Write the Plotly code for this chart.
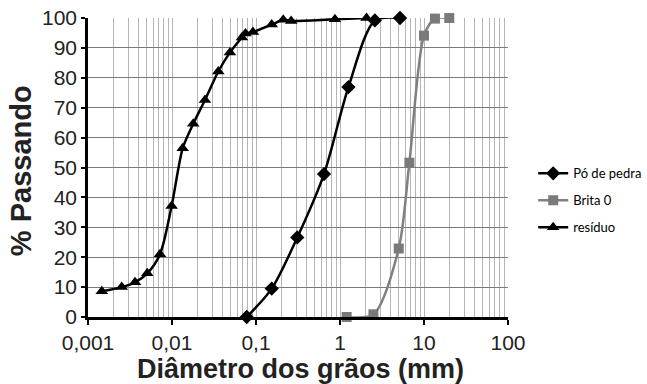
import plotly.graph_objects as go

# ---- data ----
po_x = [0.0775, 0.154, 0.31, 0.645, 1.26, 2.6, 5.18]
po_y = [0, 9.5, 26.6, 47.8, 76.9, 99.2, 100]

brita_x = [1.2, 2.5, 5.0, 6.7, 10.0, 13.5, 20.0]
brita_y = [0, 0.9, 22.9, 51.6, 94.1, 99.8, 100]

res_x = [0.00146, 0.00252, 0.00363, 0.00508, 0.0072, 0.0099, 0.0134, 0.0179,
         0.0247, 0.0356, 0.049, 0.068, 0.075, 0.092, 0.154, 0.211, 0.262, 0.87, 2.07]
res_y = [8.6, 10.0, 11.6, 14.6, 21.0, 37.1, 56.4, 64.6,
         72.6, 82.1, 88.5, 93.5, 94.8, 95.3, 97.8, 99.4, 99.0, 99.6, 100]

x_tickvals = [0.001, 0.01, 0.1, 1, 10, 100]
x_ticktext = ["0,001", "0,01", "0,1", "1", "10", "100"]
y_tickvals = list(range(0, 101, 10))

x_title = "Diâmetro dos grãos (mm)"
y_title = "% Passando"

minor_vals = [m * 10 ** e for e in range(-3, 2) for m in range(2, 10)]

FONT = "Liberation Sans, Arial, sans-serif"
LEGFONT = "Lato, Open Sans, sans-serif"

fig = go.Figure()
fig.add_trace(go.Scatter(
    x=po_x, y=po_y, name="Pó de pedra", mode="lines+markers",
    line=dict(color="black", width=2.5, shape="spline", smoothing=0.8),
    marker=dict(symbol="diamond", size=11, color="black"),
    cliponaxis=False, legendgroup="a"))
fig.add_trace(go.Scatter(
    x=brita_x, y=brita_y, name="Brita 0", mode="lines+markers",
    line=dict(color="#808080", width=2.5, shape="spline", smoothing=0.8),
    marker=dict(symbol="square", size=10, color="#7a7a7a"),
    cliponaxis=False, legendgroup="b"))
fig.add_trace(go.Scatter(
    x=res_x, y=res_y, name="resíduo", mode="lines+markers",
    line=dict(color="black", width=2.5, shape="spline", smoothing=0.8),
    marker=dict(symbol="triangle-up", size=11, color="black"),
    cliponaxis=False, legendgroup="c"))

fig.update_layout(
    width=647, height=384,
    margin=dict(l=88, r=139, t=18, b=67, autoexpand=False),
    paper_bgcolor="white", plot_bgcolor="white",
    font=dict(family=FONT, color="black"),
    legend=dict(x=1.06, xanchor="left", y=0.39, yanchor="middle",
                font=dict(family=LEGFONT, size=13, color="black"),
                tracegroupgap=7, itemwidth=30, bgcolor="rgba(0,0,0,0)"),
    showlegend=True,
    annotations=[
        dict(text="<b>%s</b>" % x_title, xref="paper", yref="paper",
             x=0.505, y=-0.175, xanchor="center", yanchor="middle",
             showarrow=False, font=dict(size=27, family=FONT, color="#222")),
        dict(text="<b>%s</b>" % y_title, xref="paper", yref="paper",
             x=-0.158, y=0.49, xanchor="center", yanchor="middle",
             textangle=-90, showarrow=False,
             font=dict(size=29, family=FONT, color="#222")),
    ],
)
fig.update_xaxes(
    type="log", range=[-3, 2], automargin=False,
    tickmode="array", tickvals=x_tickvals, ticktext=x_ticktext,
    tickfont=dict(size=21, family=FONT, color="#222"),
    ticks="outside", ticklen=5, tickcolor="black", tickwidth=1.5,
    showline=True, linecolor="black", linewidth=2.5,
    showgrid=True, gridcolor="#b5b5b5", gridwidth=1,
    minor=dict(tickmode="array", tickvals=minor_vals, showgrid=True,
               gridcolor="#b5b5b5", gridwidth=1, ticks=""),
    zeroline=False,
)
fig.update_yaxes(
    range=[0, 100], automargin=False, tickmode="array", tickvals=y_tickvals,
    tickfont=dict(size=21, family=FONT, color="#222"),
    ticks="outside", ticklen=4, tickcolor="black", tickwidth=1.5,
    showline=True, linecolor="black", linewidth=2.5,
    showgrid=True, gridcolor="#7a7a7a", gridwidth=1.2,
    zeroline=False,
)

fig.write_html(
    "out.html",
    config={"displayModeBar": False},
    post_script="document.body.style.margin='0';document.body.style.overflow='hidden';",
)
